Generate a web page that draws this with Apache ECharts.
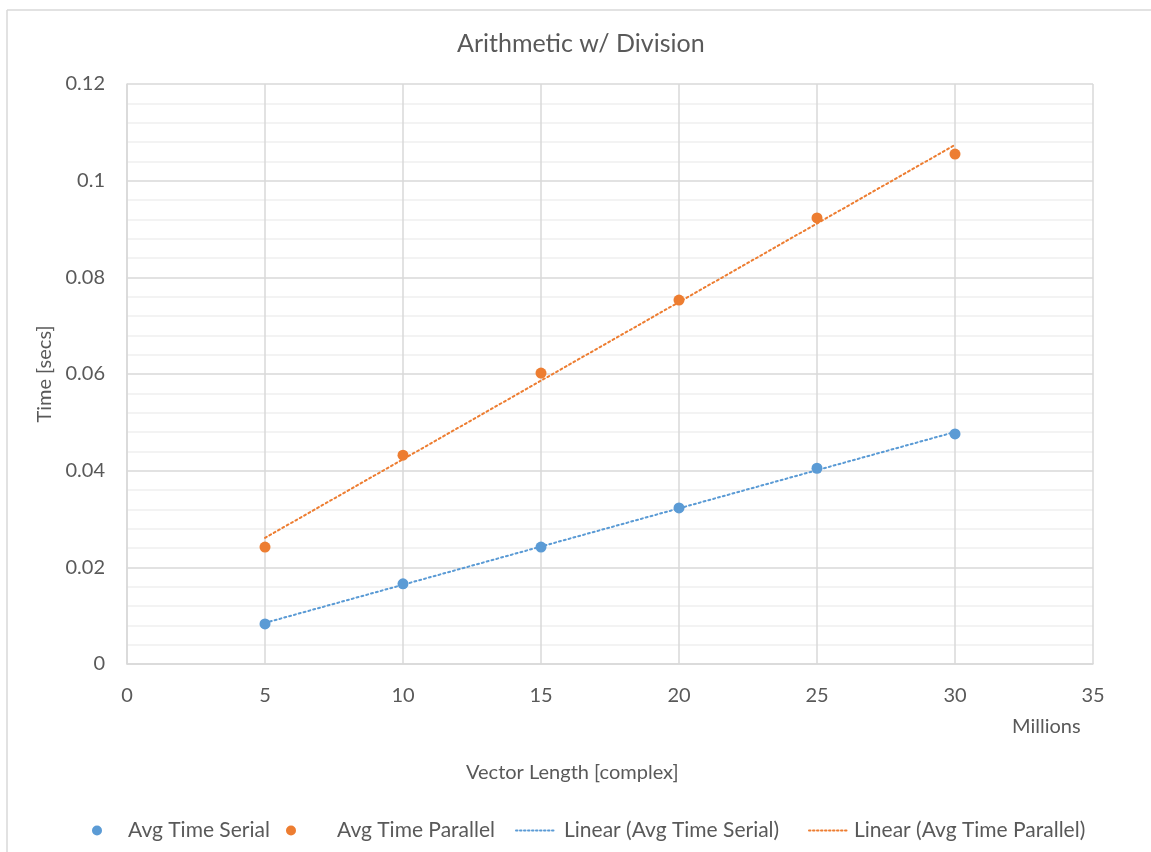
<!DOCTYPE html>
<html>
<head>
<meta charset="utf-8">
<script src="https://cdn.jsdelivr.net/npm/echarts@6/dist/echarts.min.js"></script>
<style>html,body{margin:0;padding:0;background:#fff}#c{width:1151px;height:852px}</style>
</head>
<body>
<div id="c"></div>
<script>
var vectorLength = [5, 10, 15, 20, 25, 30];
var serialTime = [0.0083, 0.0166, 0.0242, 0.0323, 0.0405, 0.0476];
var parallelTime = [0.0242, 0.0432, 0.0602, 0.0753, 0.0923, 0.1055];
var trendX = [5, 30];
var serialTrend = [0.0085, 0.0480];
var parallelTrend = [0.0261, 0.1074];

var FONT = 'Lato';
var TXT = '#595959';
var BLUE = '#5B9BD5';
var ORANGE = '#ED7D31';

function pairs(xs, ys) { return xs.map(function (x, i) { return [x, ys[i]]; }); }

var chart = echarts.init(document.getElementById('c'));
chart.setOption({
  backgroundColor: '#fff',
  animation: false,
  textStyle: { fontFamily: FONT, color: TXT },
  title: {
    text: 'Arithmetic w/ Division',
    left: 452, top: 26,
    textStyle: { fontFamily: FONT, fontSize: 25, fontWeight: 'normal', color: TXT }
  },
  grid: { left: 127, right: 58, top: 84, bottom: 188, containLabel: false },
  xAxis: {
    type: 'value', min: 0, max: 35, interval: 5,
    axisLine: { show: true, lineStyle: { color: '#D9D9D9', width: 1.5 } },
    axisTick: { show: false },
    axisLabel: { fontFamily: FONT, fontSize: 20, color: TXT, margin: 22 },
    splitLine: { show: true, lineStyle: { color: '#D9D9D9', width: 1.5 } }
  },
  yAxis: {
    type: 'value', min: 0, max: 0.12, interval: 0.02,
    axisLine: { show: true, lineStyle: { color: '#D9D9D9', width: 1.5 } },
    axisTick: { show: false },
    axisLabel: { fontFamily: FONT, fontSize: 20, color: TXT, margin: 22 },
    splitLine: { show: true, lineStyle: { color: '#D9D9D9', width: 1.5 } },
    minorTick: { show: false, splitNumber: 5 },
    minorSplitLine: { show: true, lineStyle: { color: '#F0F0F0', width: 1.5 } }
  },
  legend: [
    { data: [{ name: 'Avg Time Serial', icon: 'circle' }], left: 87, top: 815, itemWidth: 10, itemHeight: 10,
      textStyle: { fontFamily: FONT, fontSize: 21, color: TXT, padding: [0, 0, 0, 21] } },
    { data: [{ name: 'Avg Time Parallel', icon: 'circle' }], left: 281, top: 815, itemWidth: 10, itemHeight: 10,
      textStyle: { fontFamily: FONT, fontSize: 21, color: TXT, padding: [0, 0, 0, 36] } },
    { data: ['Linear (Avg Time Serial)'], left: 510, top: 815, itemWidth: 38, itemHeight: 10,
      itemStyle: { opacity: 0 }, lineStyle: { width: 2, type: [1.5, 2.5] },
      textStyle: { fontFamily: FONT, fontSize: 21, color: TXT, padding: [0, 0, 0, 5] } },
    { data: ['Linear (Avg Time Parallel)'], left: 803, top: 815, itemWidth: 38, itemHeight: 10,
      itemStyle: { opacity: 0 }, lineStyle: { width: 2, type: [1.5, 2.5] },
      textStyle: { fontFamily: FONT, fontSize: 21, color: TXT, padding: [0, 0, 0, 2] } }
  ],
  graphic: [
    { type: 'line', shape: { x1: 7, y1: 10, x2: 1151, y2: 10 }, style: { stroke: '#D9D9D9', lineWidth: 1.5 }, silent: true },
    { type: 'line', shape: { x1: 7, y1: 10, x2: 7, y2: 852 }, style: { stroke: '#D9D9D9', lineWidth: 1.5 }, silent: true },
    { type: 'text', left: 1012, top: 717, style: { text: 'Millions', font: '20px ' + FONT, fill: TXT } },
    { type: 'text', left: 466, top: 763, style: { text: 'Vector Length [complex]', font: '20px ' + FONT, fill: TXT } },
    { type: 'text', x: 35, y: 374, rotation: Math.PI / 2,
      style: { text: 'Time [secs]', font: '20px ' + FONT, fill: TXT, align: 'center', verticalAlign: 'top' } }
  ],
  series: [
    { name: 'Avg Time Serial', type: 'scatter', data: pairs(vectorLength, serialTime),
      symbolSize: 11, itemStyle: { color: BLUE, opacity: 1 }, z: 5 },
    { name: 'Avg Time Parallel', type: 'scatter', data: pairs(vectorLength, parallelTime),
      symbolSize: 11, itemStyle: { color: ORANGE, opacity: 1 }, z: 5 },
    { name: 'Linear (Avg Time Serial)', type: 'line', data: pairs(trendX, serialTrend),
      showSymbol: false, symbol: 'none', color: BLUE,
      lineStyle: { color: BLUE, width: 2, type: [2, 3], cap: 'round' }, z: 4 },
    { name: 'Linear (Avg Time Parallel)', type: 'line', data: pairs(trendX, parallelTrend),
      showSymbol: false, symbol: 'none', color: ORANGE,
      lineStyle: { color: ORANGE, width: 2, type: [2, 3], cap: 'round' }, z: 4 }
  ]
});
</script>
</body>
</html>
